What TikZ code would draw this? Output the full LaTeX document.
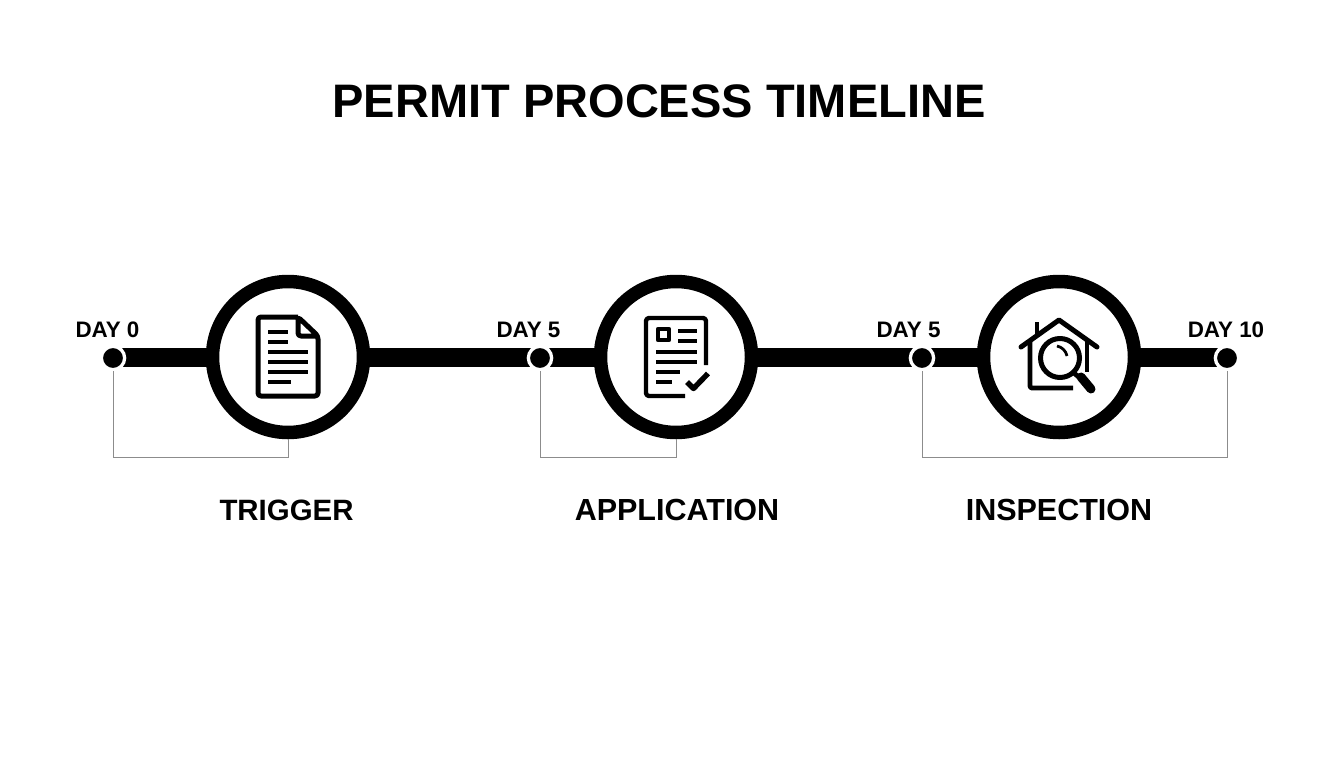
\documentclass[tikz,border=0pt]{standalone}
\usepackage{fontspec}
\setmainfont{Liberation Sans}
\tikzset{
  x=1pt,y=-1pt,
  bigring/.style={circle,draw=black,fill=white,line width=13.5pt,minimum size=151pt,inner sep=0pt},
  daydot/.style={circle,fill=black,draw=white,line width=3.3pt,minimum size=23.3pt,inner sep=0pt},
  bar/.style={line width=19pt,black},
  bracket/.style={draw=black!45,line width=1pt,line join=miter},
  daylabel/.style={anchor=base,font=\bfseries\fontsize{22.4}{24}\selectfont,inner sep=0pt},
  steplabel/.style={anchor=base,font=\bfseries\fontsize{30.5}{34}\selectfont,inner sep=0pt},
  titletext/.style={anchor=base,font=\bfseries\fontsize{47}{50}\selectfont,inner sep=0pt},
  iconline/.style={line width=4.8pt,black,line cap=butt,line join=round},
}
\begin{document}
\begin{tikzpicture}
\useasboundingbox[fill=white] (0,0) rectangle (1344,768);
\node[titletext] (title) at (659,117) {PERMIT PROCESS TIMELINE};
\coordinate (barstart) at (113,357.5);
\coordinate (barend) at (1227,357.5);
\draw[bar] (barstart) -- (barend);
\node[bigring] (c1) at (288,357) {};
\node[bigring] (c2) at (676,357) {};
\node[bigring] (c3) at (1059,357) {};
\node[daydot] (d1) at (113,358) {};
\node[daydot] (d2) at (540,358) {};
\node[daydot] (d3) at (922,358) {};
\node[daydot] (d4) at (1227,358) {};
\node[daylabel] at (107.5,337) {DAY 0};
\node[daylabel] at (528.5,337) {DAY 5};
\node[daylabel] at (908.5,337) {DAY 5};
\node[daylabel] at (1226,337) {DAY 10};
\coordinate (lane) at (0,457);
\draw[bracket] (d1.south) -- (d1.south |- lane) -- (c1.south |- lane) -- (c1.south);
\draw[bracket] (d2.south) -- (d2.south |- lane) -- (c2.south |- lane) -- (c2.south);
\draw[bracket] (d3.south) -- (d3.south |- lane) -- (d4.south |- lane) -- (d4.south);
\node[steplabel,font=\bfseries\fontsize{29.4}{34}\selectfont] at (286.5,520) {TRIGGER};
\node[steplabel] at (677,520) {APPLICATION};
\node[steplabel] at (1059,520) {INSPECTION};
% document icon
\draw[iconline,line width=5pt,rounded corners=3pt] (298,317) -- (258,317) -- (258,396) -- (318,396) -- (318,336) -- (298,317) -- (298,336) -- (318,336);
\foreach \yy/\xa/\xb in {332/268/288,342/268/288,352/268/308,362/268/308,372/268/308,382/268/291}
  \draw[iconline] (\xa,\yy) -- (\xb,\yy);
% form icon
\draw[iconline,line width=4.4pt,rounded corners=3pt] (706,365) -- (706,318) -- (646,318) -- (646,396) -- (685,396);
\draw[iconline,line width=4.4pt] (658,329) rectangle (669,340);
\foreach \yy/\xa/\xb in {331/678/697,341/678/697,352/656/697,362/656/697,372/656/680,382/656/672}
  \draw[iconline] (\xa,\yy) -- (\xb,\yy);
\draw[iconline,line width=5.4pt] (687,382) -- (693.5,388.5) -- (708,373.5);
% house icon
\draw[iconline,line width=5pt,line cap=round] (1021,347) -- (1059,320) -- (1097,347);
\draw[iconline] (1037,322) -- (1037,334);
\draw[iconline,rounded corners=2pt] (1030,341) -- (1030,388) -- (1073,388);
\draw[iconline] (1087,341) -- (1087,372);
\draw[iconline,fill=white,line width=5pt] (1060,358) circle (19.5pt);
\draw[iconline,line width=2.8pt] (1057,346) .. controls (1062,347) and (1066,351) .. (1067,356);
\draw[iconline] (1074,373) -- (1081,379);
\draw[black,line width=9pt,line cap=round] (1081,377) -- (1091,389);
\end{tikzpicture}
\end{document}
